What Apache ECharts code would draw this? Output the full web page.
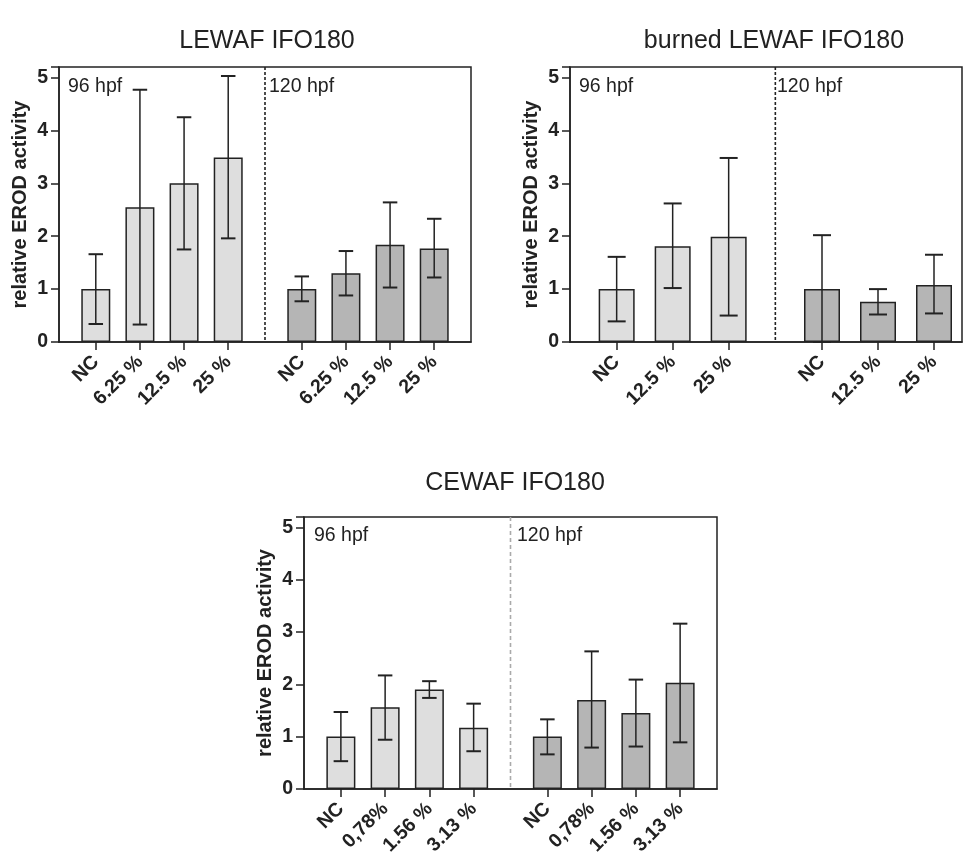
<!DOCTYPE html>
<html><head><meta charset="utf-8">
<script src="https://cdn.jsdelivr.net/npm/echarts@6/dist/echarts.min.js"></script>
<style>html,body{margin:0;padding:0;background:#fff}#c{width:971px;height:858px}</style>
</head><body><div id="c"></div>
<script>
// ---------- data ----------
const yTicks = [0, 1, 2, 3, 4, 5];
const groupNames = ['96 hpf', '120 hpf'];

const p1Title = 'LEWAF IFO180';
const p1Cats = ['NC', '6.25 %', '12.5 %', '25 %'];
const p1Mean96 = [1.00, 2.55, 3.00, 3.49];
const p1Low96 = [0.34, 0.33, 1.75, 1.96];
const p1High96 = [1.66, 4.77, 4.25, 5.03];
const p1Mean120 = [1.00, 1.30, 1.84, 1.77];
const p1Low120 = [0.77, 0.88, 1.03, 1.22];
const p1High120 = [1.24, 1.72, 2.64, 2.33];

const p2Title = 'burned LEWAF IFO180';
const p2Cats = ['NC', '12.5 %', '25 %'];
const p2Mean96 = [1.00, 1.81, 1.99];
const p2Low96 = [0.39, 1.02, 0.50];
const p2High96 = [1.61, 2.62, 3.48];
const p2Mean120 = [1.00, 0.76, 1.08];
const p2Low120 = [0.00, 0.52, 0.54];
const p2High120 = [2.02, 1.00, 1.65];

const p3Title = 'CEWAF IFO180';
const p3Cats = ['NC', '0,78%', '1.56 %', '3.13 %'];
const p3Mean96 = [1.00, 1.56, 1.90, 1.17];
const p3Low96 = [0.53, 0.94, 1.74, 0.72];
const p3High96 = [1.47, 2.17, 2.06, 1.63];
const p3Mean120 = [1.00, 1.70, 1.45, 2.03];
const p3Low120 = [0.66, 0.79, 0.81, 0.89];
const p3High120 = [1.33, 2.63, 2.09, 3.16];

// ---------- styling / layout ----------
const FONT = 'Liberation Sans, Arial, Helvetica, sans-serif';
const INK = '#222';
const LIGHT = '#dedede';
const DARK = '#b5b5b5';

const panels = [
  { title: p1Title, cats: p1Cats, m: [p1Mean96, p1Mean120], lo: [p1Low96, p1Low120], hi: [p1High96, p1High120],
    grid: { left: 59, top: 67, width: 412, height: 275 }, lead: 2, step: 3, gap: 5, trail: 2, barW: 29,
    sep: { color: INK, dash: [3, 2] }, titlePos: [262, 36], txt: [[68, 88], [269, 88]] },
  { title: p2Title, cats: p2Cats, m: [p2Mean96, p2Mean120], lo: [p2Low96, p2Low120], hi: [p2High96, p2High120],
    grid: { left: 570, top: 67, width: 392, height: 275 }, lead: 2, step: 3, gap: 5, trail: 1, barW: 36,
    sep: { color: INK, dash: [3, 2] }, titlePos: [769, 36], txt: [[579, 88], [777, 88]] },
  { title: p3Title, cats: p3Cats, m: [p3Mean96, p3Mean120], lo: [p3Low96, p3Low120], hi: [p3High96, p3High120],
    grid: { left: 304, top: 517, width: 413, height: 275 }, lead: 2, step: 3, gap: 5, trail: 2, barW: 29,
    sep: { color: '#aaa', dash: [4, 3] }, titlePos: [510, 478], txt: [[314, 537], [517, 537]] }
];

const grids = [], xAxes = [], yAxes = [], series = [], titles = [], graphics = [];

panels.forEach((p, k) => {
  const n = p.cats.length;
  const idx1 = [], idx2 = [];
  for (let i = 0; i < n; i++) idx1.push(p.lead + i * p.step);
  const s2 = idx1[n - 1] + p.gap;
  for (let i = 0; i < n; i++) idx2.push(s2 + i * p.step);
  const len = idx2[n - 1] + 1 + p.trail;
  const cats = new Array(len).fill('');
  const barData = new Array(len).fill('-');
  const errData = [];
  [idx1, idx2].forEach((ids, g) => {
    ids.forEach((ix, i) => {
      cats[ix] = p.cats[i];
      barData[ix] = { value: p.m[g][i], itemStyle: { color: g === 0 ? LIGHT : DARK } };
      errData.push([ix, p.lo[g][i], p.hi[g][i]]);
    });
  });

  grids.push(Object.assign({ show: true, borderColor: INK, borderWidth: 1.5, backgroundColor: 'transparent' }, p.grid));
  xAxes.push({
    type: 'category', gridIndex: k, data: cats, boundaryGap: true,
    axisLine: { show: true, lineStyle: { color: INK, width: 1.5 } },
    axisTick: { show: true, alignWithLabel: true, length: 8, lineStyle: { color: INK, width: 1.5 },
      interval: (i, v) => v !== '' },
    axisLabel: { interval: (i, v) => v !== '', rotate: 45, margin: 17, color: INK,
      fontFamily: FONT, fontWeight: 'bold', fontSize: 19.5 },
    splitLine: { show: false }
  });
  yAxes.push({
    type: 'value', gridIndex: k, min: 0, max: 5.2, interval: 1,
    name: 'relative EROD activity', nameLocation: 'middle', nameGap: 29, nameRotate: 90,
    nameTextStyle: { color: INK, fontFamily: FONT, fontWeight: 'bold', fontSize: 20 },
    axisLine: { show: true, lineStyle: { color: INK, width: 1.5 } },
    axisTick: { show: true, length: 8, lineStyle: { color: INK, width: 1.5 } },
    axisLabel: { color: INK, fontFamily: FONT, fontWeight: 'bold', fontSize: 19.5, margin: 11,
      formatter: v => (yTicks.indexOf(v) >= 0 ? String(v) : '') },
    splitLine: { show: false }
  });
  series.push({
    type: 'bar', xAxisIndex: k, yAxisIndex: k, data: barData, barWidth: p.barW,
    itemStyle: { borderColor: INK, borderWidth: 1.5 }, z: 2, animation: false
  });
  const capW = p.barW / 2;
  series.push({
    type: 'custom', xAxisIndex: k, yAxisIndex: k, data: errData, z: 5, animation: false,
    encode: { x: 0, y: [1, 2] },
    renderItem: (params, api) => {
      const x = api.value(0);
      const a = api.coord([x, api.value(1)]);
      const b = api.coord([x, api.value(2)]);
      const st = { stroke: INK, lineWidth: 1.5 };
      const cap = { stroke: INK, lineWidth: 2 };
      return { type: 'group', children: [
        { type: 'line', shape: { x1: a[0], y1: a[1], x2: b[0], y2: b[1] }, style: st },
        { type: 'line', shape: { x1: a[0] - capW / 2, y1: a[1], x2: a[0] + capW / 2, y2: a[1] }, style: cap },
        { type: 'line', shape: { x1: b[0] - capW / 2, y1: b[1], x2: b[0] + capW / 2, y2: b[1] }, style: cap }
      ] };
    }
  });
  series.push({
    type: 'custom', xAxisIndex: k, yAxisIndex: k, data: [[idx1[n - 1], idx2[0], 0]], z: 4, animation: false,
    encode: { x: 0, y: 2 },
    renderItem: (params, api) => {
      const a = api.coord([api.value(0), 0]);
      const b = api.coord([api.value(1), 0]);
      const x = (a[0] + b[0]) / 2;
      const top = params.coordSys.y;
      return { type: 'line', shape: { x1: x, y1: top, x2: x, y2: a[1] },
        style: { stroke: p.sep.color, lineWidth: 1.6, lineDash: p.sep.dash } };
    }
  });
  titles.push({ text: p.title, left: p.titlePos[0], top: p.titlePos[1], textAlign: 'center', textVerticalAlign: 'middle',
    textStyle: { fontFamily: FONT, fontWeight: 'normal', fontSize: 25, color: INK } });
  p.txt.forEach((t, g) => {
    graphics.push({ type: 'text', left: t[0], top: t[1] - 11,
      style: { text: groupNames[g], fontFamily: FONT, fontSize: 19.5, fill: INK } });
  });
});

const chart = echarts.init(document.getElementById('c'), null, { renderer: 'canvas' });
chart.setOption({
  animation: false,
  backgroundColor: '#fff',
  title: titles,
  grid: grids,
  xAxis: xAxes,
  yAxis: yAxes,
  series: series,
  graphic: graphics
});
</script>
</body></html>
